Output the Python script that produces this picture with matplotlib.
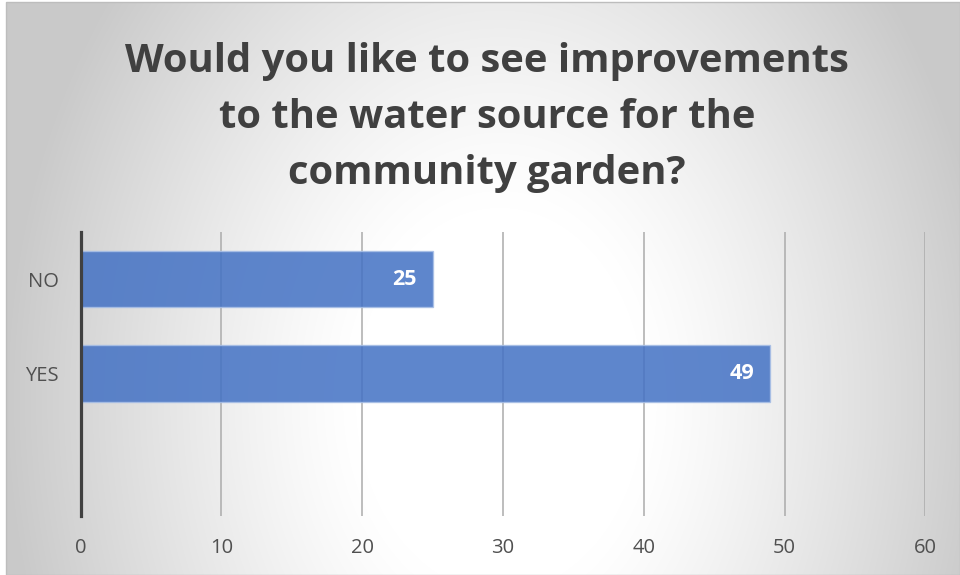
import numpy as np
import matplotlib
matplotlib.use("Agg")
import matplotlib.pyplot as plt
from matplotlib.patches import Rectangle

# ---- data ----
title = "Would you like to see improvements\nto the water source for the\ncommunity garden?"
categories = ["NO", "YES", ""]          # top to bottom
values = [25, 49, None]
x_ticks = [0, 10, 20, 30, 40, 50, 60]

W, H = 960, 575
plt.rcParams['font.family'] = ['Open Sans', 'DejaVu Sans']

fig = plt.figure(figsize=(W / 100, H / 100), dpi=100)
fig.patch.set_facecolor('white')

# ---- background radial gradient (chart area) ----
x0, y0, x1, y1 = 6, 2, 960, 575   # px, y from top
bg = fig.add_axes([x0 / W, 1 - y1 / H, (x1 - x0) / W, (y1 - y0) / H])
bg.set_axis_off()
xs = np.arange(x0, x1) + 0.5
ys = np.arange(y0, y1) + 0.5
X, Y = np.meshgrid(xs, ys)
cx, cy, rx, ry = 500, 400, 480, 640
r = np.sqrt(((X - cx) / rx) ** 2 + ((Y - cy) / ry) ** 2)
t = np.clip((r - 0.3) / 0.73, 0, 1) ** 1.2
g = 1.0 - 0.21 * t
bg.imshow(np.dstack([g, g, g]), extent=[0, 1, 0, 1], aspect='auto',
          origin='upper', interpolation='bilinear')
bg.set_xlim(0, 1)
bg.set_ylim(0, 1)
bg.add_patch(Rectangle((0, 0), 1, 1, transform=bg.transAxes, fill=False,
                       edgecolor='#BDBDBD', lw=1.0, clip_on=False))

# ---- title ----
fig.text(487 / W, 1 - 184 / H, title, ha='center', va='baseline',
         fontsize=28.8, fontweight='bold', color='#404040', linespacing=1.56,
         multialignment='center')

# ---- main axes ----
ax_l, ax_r, ax_t, ax_b = 80.7, 925.3, 231.7, 515.7
ax = fig.add_axes([ax_l / W, 1 - ax_b / H, (ax_r - ax_l) / W, (ax_b - ax_t) / H])
ax.patch.set_visible(False)

n = len(categories)
pos = [n - 1 - i for i in range(n)]
for p, v in zip(pos, values):
    if v is None:
        continue
    ax.barh(p, v, height=0.6, color='#4472C4', alpha=0.86,
            edgecolor='#A8BFE6', linewidth=1.0, zorder=3)
    ax.annotate(str(v), xy=(v, p), xytext=(-11.5, 0), textcoords='offset points',
                ha='right', va='center', color='white', fontsize=15.5,
                fontweight='bold', zorder=4)

ax.set_xlim(0, 60)
ax.set_ylim(-0.5, n - 0.5)
ax.set_xticks(x_ticks)
ax.set_xticklabels([str(v) for v in x_ticks])
ax.set_yticks(pos)
ax.set_yticklabels(categories)
ax.tick_params(axis='both', length=0, labelsize=14.5, labelcolor='#505050')
ax.tick_params(axis='y', pad=16)
ax.tick_params(axis='x', pad=16)
ax.grid(axis='x', color='#ABABAB', linewidth=1.1, zorder=1)
ax.set_axisbelow(True)
for s in ['top', 'right', 'bottom']:
    ax.spines[s].set_visible(False)
ax.spines['left'].set_color('#404040')
ax.spines['left'].set_linewidth(2.3)
ax.spines['left'].set_zorder(5)

fig.savefig('out.png', dpi=100)
